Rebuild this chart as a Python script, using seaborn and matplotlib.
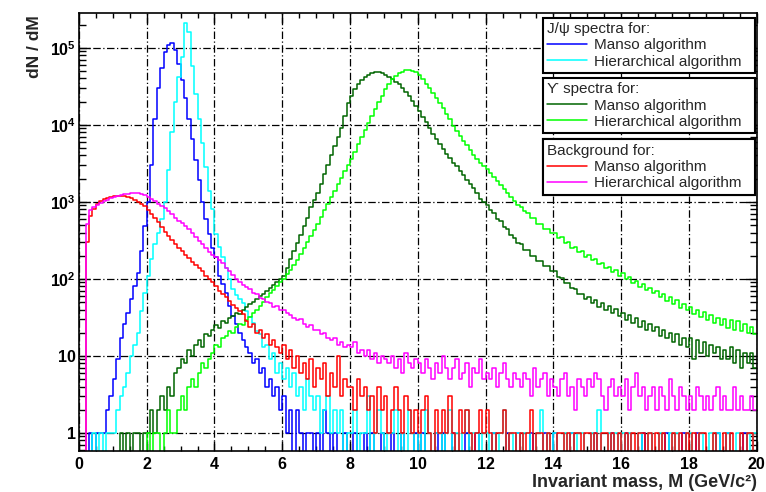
import numpy as np
import matplotlib
matplotlib.use("Agg")
import matplotlib.pyplot as plt
import seaborn as sns
from matplotlib.lines import Line2D
from matplotlib.ticker import MultipleLocator, LogLocator, FixedLocator, FixedFormatter, NullFormatter

# histogram binning (GeV/c^2)
bin_width = 0.1
edges = np.round(np.arange(0, 20.0 + bin_width / 2, bin_width), 2)
centers = edges[:-1] + bin_width / 2

# J/psi spectra, Manso algorithm
jpsi_manso = [
    0, 0, 0, 1, 0, 1, 1, 1, 2, 3,
    5, 9, 17, 26, 36, 55, 80, 120, 230, 480,
    1000, 3000, 12000, 30000, 55000, 88000, 108000, 115000, 95000, 62000,
    38000, 22000, 12000, 6500, 3500, 1900, 1000, 600, 380, 250,
    190, 110, 85, 65, 45, 33, 26, 20, 16, 13,
    11, 8, 9, 6, 7, 4, 5, 3, 4, 2,
    3, 1, 2, 0, 2, 1, 0, 1, 1, 0,
    1, 0, 2, 1, 0, 1, 0, 0, 1, 0,
    0, 1, 0, 0, 1, 0, 1, 0, 0, 1,
    0, 0, 1, 0, 0, 1, 0, 0, 0, 1,
    0, 1, 0, 0, 0, 1, 0, 1, 0, 0,
    1, 0, 0, 0, 1, 0, 0, 1, 0, 0,
    0, 0, 1, 0, 0, 0, 1, 0, 0, 1,
    0, 0, 0, 1, 0, 0, 0, 1, 0, 0,
    1, 0, 0, 0, 0, 1, 0, 0, 0, 0,
    0, 0, 1, 0, 0, 0, 0, 1, 0, 0,
    0, 1, 0, 0, 0, 0, 1, 0, 0, 0,
    0, 0, 0, 1, 0, 0, 0, 0, 1, 0,
    0, 0, 1, 0, 0, 0, 0, 0, 1, 0,
    0, 1, 0, 0, 0, 0, 1, 0, 0, 0,
]

# J/psi spectra, Hierarchical algorithm
jpsi_hier = [
    0, 0, 0, 0, 1, 0, 1, 0, 1, 1,
    1, 2, 3, 4, 6, 10, 14, 20, 38, 65,
    110, 180, 280, 400, 600, 1000, 2600, 8000, 20000, 42000,
    75000, 210000, 160000, 58000, 25000, 12000, 5800, 2800, 1400, 800,
    380, 260, 190, 140, 100, 75, 62, 55, 48, 38,
    32, 27, 21, 19, 13, 14, 9, 11, 6, 8,
    5, 7, 4, 6, 3, 4, 2, 5, 3, 2,
    3, 1, 2, 3, 1, 2, 1, 2, 0, 1,
    1, 2, 0, 1, 1, 3, 0, 1, 2, 1,
    0, 1, 1, 2, 0, 1, 0, 2, 1, 0,
    1, 0, 2, 1, 0, 1, 1, 0, 1, 2,
    0, 1, 0, 1, 2, 0, 1, 1, 0, 1,
    1, 0, 1, 0, 1, 2, 0, 1, 0, 1,
    0, 1, 1, 0, 0, 1, 2, 0, 1, 0,
    1, 0, 0, 1, 0, 1, 0, 1, 1, 0,
    0, 1, 0, 2, 0, 0, 1, 0, 1, 0,
    1, 0, 1, 0, 0, 1, 0, 0, 1, 0,
    0, 1, 0, 0, 1, 0, 1, 0, 0, 1,
    1, 0, 0, 1, 0, 0, 1, 0, 1, 0,
    0, 1, 0, 0, 1, 0, 0, 1, 0, 1,
]

# Upsilon spectra, Manso algorithm
ups_manso = [
    0, 0, 0, 0, 0, 0, 0, 0, 0, 0,
    0, 0, 1, 0, 1, 0, 1, 1, 0, 1,
    1, 2, 1, 2, 3, 2, 4, 3, 6, 7,
    9, 8, 12, 10, 14, 16, 13, 19, 18, 22,
    25, 23, 28, 27, 31, 33, 36, 35, 40, 43,
    47, 50, 55, 60, 64, 70, 76, 84, 92, 100,
    110, 140, 180, 230, 290, 370, 480, 620, 850, 1050,
    1300, 1700, 2300, 3000, 4000, 5300, 7000, 9200, 13000, 19000,
    24000, 29000, 34000, 38000, 42000, 45000, 47000, 48000, 48000, 47000,
    45000, 42000, 39000, 36000, 34000, 30000, 27000, 23500, 20500, 17500,
    15000, 12800, 10800, 9000, 7700, 6600, 5700, 4900, 4200, 3700,
    3200, 2900, 2500, 2200, 1950, 1700, 1500, 1300, 1100, 1000,
    920, 780, 720, 600, 560, 470, 440, 370, 340, 290,
    280, 240, 235, 200, 200, 170, 170, 145, 145, 125,
    125, 105, 104, 88, 88, 76, 74, 64, 63, 55,
    58, 48, 53, 43, 48, 39, 44, 36, 41, 33,
    36, 29, 34, 27, 31, 24, 28, 22, 26, 21,
    24, 18, 22, 17, 20, 15, 19, 14, 17, 13,
    17, 9, 16, 11, 15, 10, 14, 11, 13, 9,
    12, 9, 13, 8, 12, 7, 11, 8, 11, 7,
]

# Upsilon spectra, Hierarchical algorithm
ups_hier = [
    0, 0, 0, 0, 0, 0, 0, 0, 0, 0,
    0, 0, 0, 0, 0, 0, 0, 0, 0, 0,
    1, 0, 1, 1, 0, 1, 2, 1, 1, 2,
    3, 2, 4, 5, 4, 6, 8, 7, 9, 11,
    14, 13, 17, 18, 21, 20, 24, 26, 25, 29,
    32, 36, 40, 44, 50, 58, 65, 72, 82, 92,
    100, 115, 130, 150, 175, 210, 250, 300, 360, 430,
    520, 640, 780, 950, 1150, 1400, 1700, 2050, 2500, 3000,
    3600, 4500, 5600, 7000, 8700, 10500, 13000, 16000, 20000, 24000,
    29000, 34000, 39000, 43000, 47000, 49000, 51000, 51000, 50000, 48000,
    44000, 39000, 34000, 30000, 26000, 22500, 19000, 16500, 14000, 12000,
    9800, 8400, 7200, 6200, 5400, 4700, 4100, 3600, 3200, 2900,
    2650, 2350, 2100, 1850, 1650, 1450, 1300, 1150, 1020, 920,
    860, 750, 720, 620, 610, 520, 515, 450, 450, 390,
    390, 340, 345, 295, 300, 255, 262, 222, 228, 195,
    203, 176, 182, 156, 162, 137, 144, 122, 129, 110,
    118, 100, 106, 89, 95, 79, 86, 71, 77, 65,
    70, 58, 64, 52, 58, 47, 53, 42, 47, 39,
    43, 35, 40, 32, 37, 29, 34, 27, 31, 25,
    30, 23, 29, 22, 28, 21, 26, 20, 24, 19,
]

# Background, Manso algorithm
bkg_manso = [
    0, 0, 300, 650, 820, 930, 1020, 1080, 1130, 1160,
    1180, 1200, 1200, 1190, 1160, 1120, 1070, 1010, 950, 880,
    780, 700, 610, 540, 470, 410, 360, 320, 280, 255,
    230, 205, 185, 165, 150, 137, 125, 110, 100, 90,
    82, 70, 64, 58, 52, 46, 42, 38, 35, 28,
    24, 26, 20, 22, 17, 19, 14, 16, 13, 11,
    14, 9, 12, 7, 10, 6, 8, 5, 9, 4,
    7, 5, 8, 3, 6, 4, 10, 3, 5, 4,
    4, 2, 5, 3, 4, 2, 3, 1, 4, 2,
    3, 1, 2, 4, 2, 1, 3, 2, 1, 2,
    1, 2, 3, 1, 0, 2, 1, 2, 1, 3,
    1, 0, 2, 1, 2, 1, 0, 1, 2, 1,
    2, 1, 0, 1, 1, 2, 0, 1, 1, 0,
    1, 0, 1, 2, 0, 1, 1, 0, 1, 0,
    0, 1, 1, 0, 1, 0, 1, 1, 0, 1,
    1, 0, 1, 0, 1, 1, 0, 1, 0, 1,
    0, 1, 0, 1, 0, 1, 1, 0, 1, 0,
    1, 0, 1, 0, 0, 1, 0, 1, 0, 1,
    0, 1, 0, 1, 1, 0, 0, 1, 0, 0,
    1, 0, 1, 0, 0, 1, 0, 1, 1, 0,
]

# Background, Hierarchical algorithm
bkg_hier = [
    0, 0, 520, 780, 870, 920, 970, 1020, 1070, 1110,
    1150, 1190, 1220, 1250, 1270, 1290, 1300, 1290, 1260, 1220,
    1170, 1100, 1020, 950, 890, 830, 760, 690, 620, 570,
    530, 480, 440, 400, 350, 310, 280, 250, 225, 205,
    190, 175, 160, 140, 125, 112, 100, 92, 84, 78,
    74, 66, 64, 57, 55, 50, 48, 43, 44, 39,
    40, 36, 34, 31, 29, 30, 26, 24, 25, 22,
    22, 19, 20, 17, 16, 17, 14, 15, 13, 14,
    13, 15, 11, 12, 10, 12, 9, 11, 8, 10,
    9, 8, 10, 7, 9, 6, 11, 8, 7, 9,
    8, 6, 9, 7, 5, 8, 6, 10, 7, 5,
    7, 9, 5, 6, 8, 4, 7, 6, 9, 5,
    6, 5, 7, 4, 6, 8, 5, 4, 6, 5,
    4, 6, 5, 3, 7, 4, 5, 6, 3, 5,
    4, 3, 5, 6, 3, 4, 2, 5, 4, 3,
    5, 4, 6, 5, 3, 2, 4, 5, 3, 4,
    3, 5, 2, 4, 6, 3, 4, 2, 3, 4,
    2, 4, 3, 2, 5, 3, 2, 4, 3, 2,
    3, 2, 4, 3, 2, 3, 2, 3, 4, 2,
    3, 2, 2, 4, 2, 3, 2, 2, 3, 2,
]

series_colors = {
    "jpsi_manso": "#0000ff",
    "jpsi_hier": "#00ffff",
    "ups_manso": "#006400",
    "ups_hier": "#00ff00",
    "bkg_manso": "#ff0000",
    "bkg_hier": "#ff00ff",
}
series_data = {
    "jpsi_manso": jpsi_manso,
    "jpsi_hier": jpsi_hier,
    "ups_manso": ups_manso,
    "ups_hier": ups_hier,
    "bkg_manso": bkg_manso,
    "bkg_hier": bkg_hier,
}

sns.set_theme(style="ticks")
plt.rcParams["font.family"] = ["Liberation Sans", "DejaVu Sans"]
plt.rcParams["mathtext.fontset"] = "custom"
plt.rcParams["mathtext.rm"] = "Liberation Sans"
plt.rcParams["mathtext.bf"] = "Liberation Sans:bold"

fig, ax = plt.subplots(figsize=(7.66, 4.92), dpi=100)
fig.subplots_adjust(left=0.103, right=0.988, top=0.974, bottom=0.083)
ax.set_yscale("log")

for name, vals in series_data.items():
    sns.histplot(x=centers, weights=vals, bins=list(edges), element="step", fill=False,
                 color=series_colors[name], linewidth=1.1, ax=ax)

ax.set_xlim(0, 20)
ax.set_ylim(0.58, 2.85e5)

# axes / ticks in ROOT style
ax.xaxis.set_major_locator(MultipleLocator(2))
ax.xaxis.set_minor_locator(MultipleLocator(0.5))
decades = [1, 10, 100, 1000, 1e4, 1e5]
ax.yaxis.set_major_locator(FixedLocator(decades))
ax.yaxis.set_major_formatter(FixedFormatter(
    ["1", "10", r"$\mathbf{10^{2}}$", r"$\mathbf{10^{3}}$", r"$\mathbf{10^{4}}$", r"$\mathbf{10^{5}}$"]))
ax.yaxis.set_minor_locator(LogLocator(base=10, subs=np.arange(2, 10), numticks=20))
ax.yaxis.set_minor_formatter(NullFormatter())

ax.tick_params(which="both", direction="in", top=True, right=True, colors="black")
ax.tick_params(axis="x", which="major", length=7, width=1, pad=4, labelsize=11.5)
ax.tick_params(axis="x", which="minor", length=3.5, width=1)
ax.tick_params(axis="y", which="major", length=8, width=1, pad=2, labelsize=11.5)
ax.tick_params(axis="y", which="minor", length=5, width=1)
for lab in ax.get_xticklabels() + ax.get_yticklabels():
    lab.set_fontweight("bold")
for sp in ax.spines.values():
    sp.set_color("black")
    sp.set_linewidth(1.2)

ax.grid(True, which="major", color="black", linestyle=(0, (6, 2, 1, 2)), linewidth=0.9)
ax.set_axisbelow(True)

ax.set_ylabel("dN / dM", fontsize=12.5, fontweight="bold", loc="top")
ax.yaxis.set_label_coords(-0.055, 0.995)
ax.set_xlabel("Invariant mass, M (GeV/c²)", fontsize=13, fontweight="bold", loc="right")
ax.xaxis.set_label_coords(1.0, -0.052)


def legend_box(names, labels, title, top):
    handles = [Line2D([], [], color=series_colors[n], linewidth=1.1) for n in names]
    leg = ax.legend(handles, labels, title=title, loc="upper left",
                    bbox_to_anchor=(0.684, top - 0.13, 0.313, 0.13), mode="expand",
                    frameon=True, fancybox=False, edgecolor="black", framealpha=1,
                    fontsize=11, title_fontsize=11, alignment="left",
                    handlelength=2.6, handletextpad=0.45, labelspacing=0.15,
                    borderpad=0.3, borderaxespad=0)
    leg.get_frame().set_linewidth(1.5)
    ax.add_artist(leg)


algos = ["Manso algorithm", "Hierarchical algorithm"]
legend_box(["jpsi_manso", "jpsi_hier"], algos, "J/ψ spectra for:", 0.989)
legend_box(["ups_manso", "ups_hier"], algos, "ϒ spectra for:", 0.852)
legend_box(["bkg_manso", "bkg_hier"], algos, "Background for:", 0.712)

fig.savefig("out.png", dpi=100)
